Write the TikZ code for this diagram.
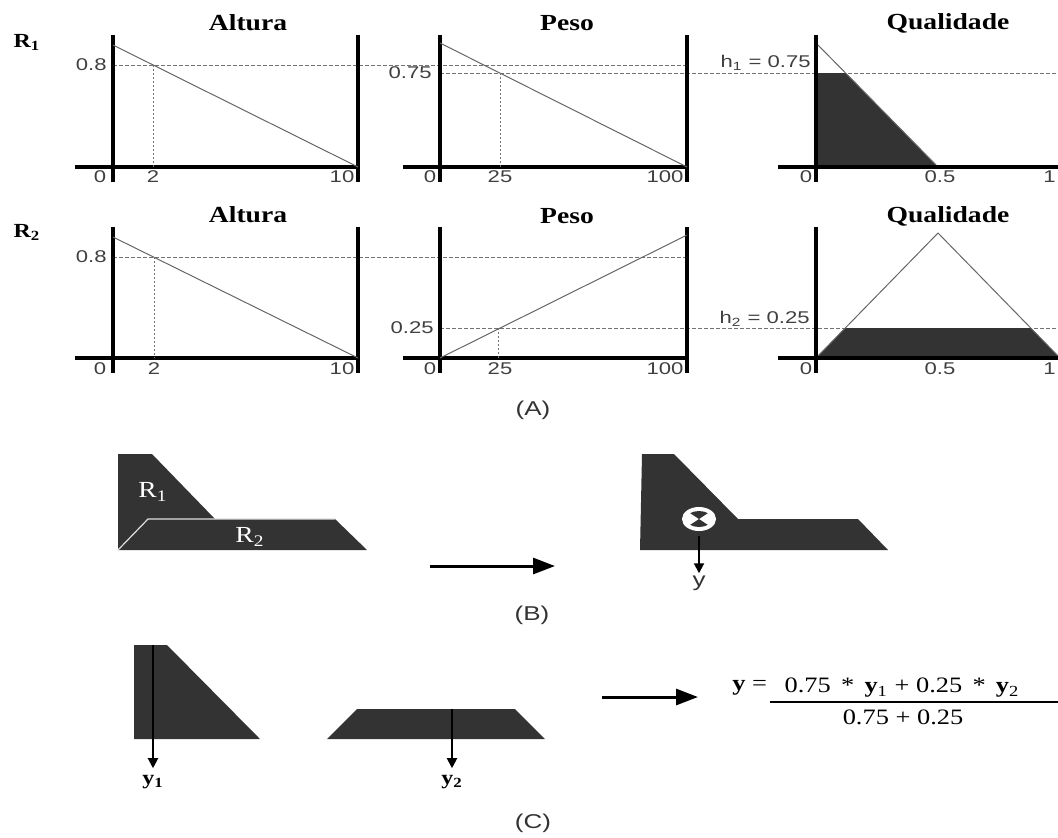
\documentclass[tikz,border=0pt]{standalone}
\usepackage{fontspec}
\setmainfont{Liberation Serif}
\newfontfamily\numfont[FakeStretch=1.3]{Liberation Sans}
\newfontfamily\widefont[FakeStretch=1.2]{Liberation Serif}
\usetikzlibrary{arrows.meta,shapes.geometric}
\definecolor{blob}{gray}{0.2}
\tikzset{
  axis/.style={line width=1.8pt},
  mf/.style={line width=0.5pt, black!60},
  guide/.style={black!55, line width=0.5pt, dash pattern=on 2pt off 1pt},
  drop/.style={black!55, line width=0.5pt, dash pattern=on 1pt off 1pt},
  num/.style={font=\numfont\fontsize{8.5}{9}\selectfont, text=black!75, inner sep=1pt},
  partlab/.style={font=\numfont\fontsize{10}{11}\selectfont, text=black!80, inner sep=1pt},
  ttl/.style={font=\widefont\bfseries\fontsize{11.5}{13}\selectfont},
  rlab/.style={font=\widefont\bfseries\fontsize{10}{11}\selectfont},
  blab/.style={font=\widefont\fontsize{11.5}{13}\selectfont, text=white},
  eq/.style={font=\widefont\fontsize{11}{13}\selectfont},
  area/.style={fill=blob},
  bigarrow/.style={line width=1.5pt, -{Triangle[length=11pt,width=8pt]}},
  smallarrow/.style={line width=1pt, -{Triangle[length=5pt,width=5pt]}},
}
\begin{document}
\begin{tikzpicture}[x=0.5pt, y=-0.5pt]
		\useasboundingbox (0,0) rectangle (1058,837);

		% (A) first rule
		\node[rlab] (r1) at (27,42) {R\textsubscript{1}};
		\node[ttl] (tAlt1) at (248,23) {Altura};
		\node[ttl] (tPes1) at (567,23) {Peso};
		\node[ttl] (tQua1) at (948,23) {Qualidade};

		\draw[guide] (113,65) -- (687,65);
		\draw[guide] (440,73) -- (1058,73);

		\draw[axis] (75,167) -- (358,167);
		\draw[axis] (113,35) -- (113,182);
		\draw[axis] (358,35) -- (358,182);
		\draw[mf] (113,45) -- (358,167);
		\draw[drop] (153,65) -- (153,167);

		\draw[axis] (403,167) -- (687,167);
		\draw[axis] (440,35) -- (440,182);
		\draw[axis] (687,35) -- (687,182);
		\draw[mf] (440,43) -- (687,167);
		\draw[drop] (500,73) -- (500,167);

		\fill[area] (816,167) -- (816,73) -- (846,73) -- (938,167) -- cycle;
		\draw[mf] (816,43) -- (938,167);
		\draw[axis] (778,167) -- (1058,167);
		\draw[axis] (816,35) -- (816,182);

		\node[num, anchor=east] (v08a) at (109,65) {0.8};
		\node[num, anchor=east] (v075) at (434,73) {0.75};
		\node[num, anchor=east] (h1) at (813,63) {h\textsubscript{1} = 0.75};
		\node[num] (x0a) at (100,177) {0};
		\node[num] (x2a) at (153,177) {2};
		\node[num] (x10a) at (342,177) {10};
		\node[num] (x0b) at (430,177) {0};
		\node[num] (x25b) at (500,177) {25};
		\node[num] (x100b) at (665,177) {100};
		\node[num] (x0c) at (806,177) {0};
		\node[num] (x05c) at (940,177) {0.5};
		\node[num, anchor=east] (x1c) at (1058,177) {1};

		% (A) second rule
		\node[rlab] (r2) at (27,232) {R\textsubscript{2}};
		\node[ttl] (tAlt2) at (248,215) {Altura};
		\node[ttl] (tPes2) at (567,216) {Peso};
		\node[ttl] (tQua2) at (948,216) {Qualidade};

		\draw[guide] (113,257) -- (687,257);
		\draw[guide] (440,328) -- (1058,328);

		\draw[axis] (75,358) -- (358,358);
		\draw[axis] (113,227) -- (113,373);
		\draw[axis] (358,227) -- (358,373);
		\draw[mf] (113,237) -- (358,358);
		\draw[drop] (154,257) -- (154,358);

		\draw[axis] (403,358) -- (687,358);
		\draw[axis] (440,227) -- (440,373);
		\draw[axis] (687,227) -- (687,373);
		\draw[mf] (440,358) -- (687,235);
		\draw[drop] (498,328) -- (498,358);

		\fill[area] (816,358) -- (845,328) -- (1031,328) -- (1060,358) -- cycle;
		\draw[mf] (816,358) -- (938,233) -- (1060,358);
		\draw[axis] (778,358) -- (1058,358);
		\draw[axis] (816,227) -- (816,373);

		\node[num, anchor=east] (v08b) at (109,257) {0.8};
		\node[num, anchor=east] (v025) at (436,328) {0.25};
		\node[num, anchor=east] (h2) at (812,319) {h\textsubscript{2} = 0.25};
		\node[num] (x0d) at (100,369) {0};
		\node[num] (x2d) at (154,369) {2};
		\node[num] (x10d) at (342,369) {10};
		\node[num] (x0e) at (430,369) {0};
		\node[num] (x25e) at (500,369) {25};
		\node[num] (x100e) at (665,369) {100};
		\node[num] (x0f) at (806,369) {0};
		\node[num] (x05f) at (940,369) {0.5};
		\node[num, anchor=east] (x1f) at (1058,369) {1};

		\node[partlab] (capA) at (533,410) {(A)};

		% (B) union of the two areas
		\fill[area] (118,454) -- (152,454) -- (215,519) -- (148,519) -- (118,550) -- cycle;
		\fill[area] (148,519) -- (335,519) -- (367,550) -- (118,550) -- cycle;
		\draw[white!75!gray, line width=0.6pt] (118,550) -- (148,519) -- (335,519);
		\node[blab] (b1) at (153,492) {R\textsubscript{1}};
		\node[blab] (b2) at (250,537) {R\textsubscript{2}};

		\coordinate (bL) at (430,566);
		\coordinate (bR) at (555,566);
		\draw[bigarrow] (bL) -- (bR);

		\fill[area] (642,454) -- (674,454) -- (738,519) -- (858,519) -- (888,550) -- (640,550) -- cycle;
		\node[draw=white, line width=1pt, fill=white, ellipse, minimum width=16pt, minimum height=11pt, inner sep=0pt] (cg) at (699,519) {};
		\begin{scope}
			\clip (699,519) ellipse [x radius=13, y radius=8];
			\fill[area] (684,509) -- (714,509) -- (699,519) -- cycle;
			\fill[area] (684,529) -- (714,529) -- (699,519) -- cycle;
		\end{scope}
		\coordinate (cgs) at (699,536);
		\node[partlab] (yb) at (699,583) {y};
		\draw[smallarrow] (cgs) -- (yb.north);

		\node[partlab] (capB) at (532,615) {(B)};

		% (C) each area with its own centre
		\fill[area] (134,645) -- (167,645) -- (260,739) -- (134,739) -- cycle;
		\coordinate (c1) at (153,645);
		\node[rlab] (y1) at (153,782) {y\textsubscript{1}};
		\draw[smallarrow] (c1) -- (y1.north);

		\fill[area] (327,739) -- (357,709) -- (515,709) -- (545,739) -- cycle;
		\coordinate (c2) at (452,709);
		\node[rlab] (y2) at (452,782) {y\textsubscript{2}};
		\draw[smallarrow] (c2) -- (y2.north);

		\coordinate (cL) at (602,697);
		\coordinate (cR) at (698,697);
		\draw[bigarrow] (cL) -- (cR);

		\node[eq, anchor=east] (fy) at (774,688) {\textbf{y} =};
		\node[eq] (fnum) at (902,688) {0.75 \,*\, \textbf{y}\textsubscript{1} + 0.25 \,*\, \textbf{y}\textsubscript{2}};
		\node[eq] (fden) at (903,717) {0.75 + 0.25};
		\coordinate (barL) at (770,702);
		\coordinate (barR) at (1058,702);
		\draw[line width=1pt] (barL) -- (barR);

		\node[partlab] (capC) at (533,823) {(C)};

	\end{tikzpicture}
\end{document}
